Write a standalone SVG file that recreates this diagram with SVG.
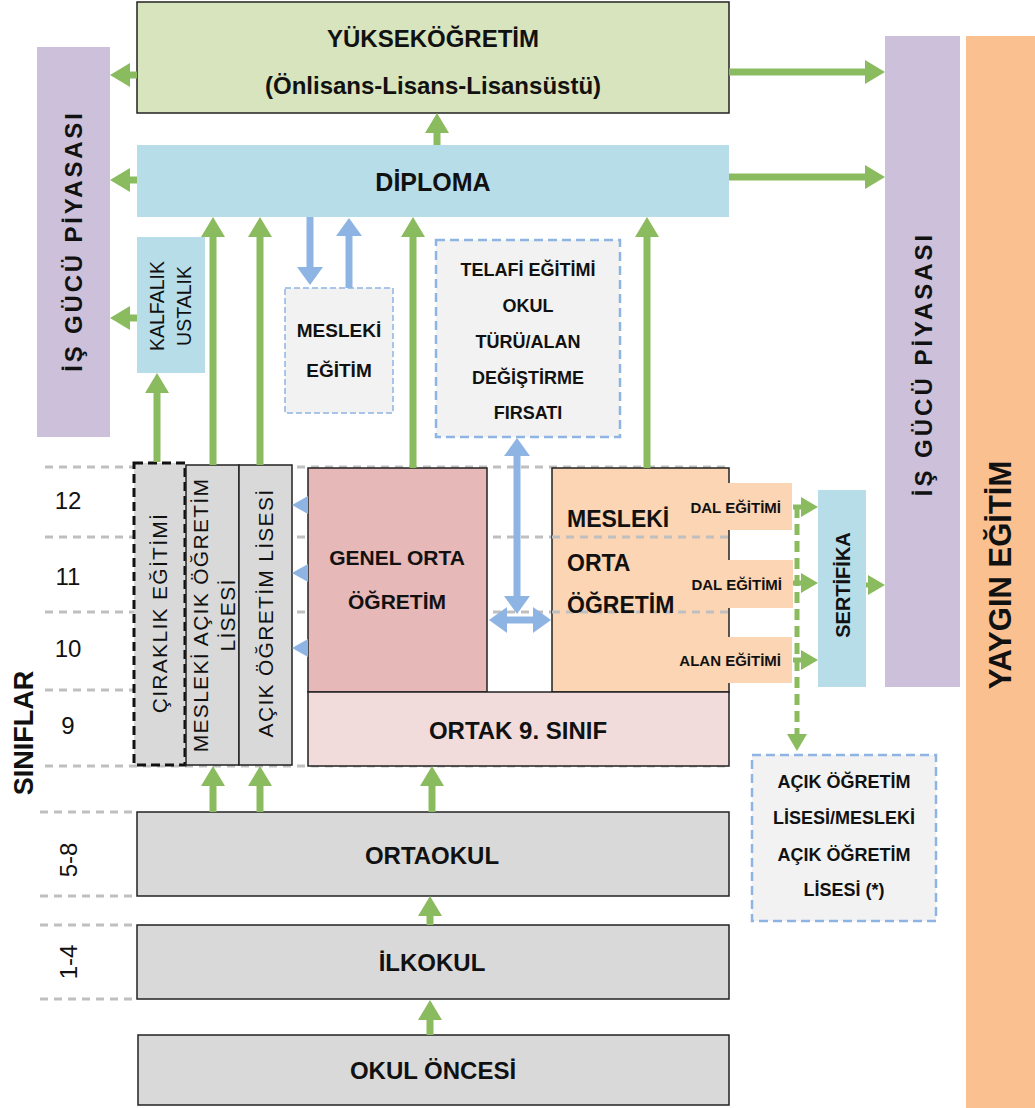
<svg xmlns="http://www.w3.org/2000/svg" width="1035" height="1108" viewBox="0 0 1035 1108">
<defs>
<style>
text{font-family:"Liberation Sans",Arial,sans-serif;fill:#111;}
.b{font-weight:bold;}
.c{text-anchor:middle;dominant-baseline:central;}
.box{stroke:#222;stroke-width:1.5;}
.grid{stroke:#bfbfbf;stroke-width:3;stroke-dasharray:8 6;fill:none;}
.g{stroke:#8bbb5f;stroke-width:7;fill:none;}
.gs{stroke:#8bbb5f;stroke-width:5;fill:none;}
.bl{stroke:#8eb4e3;stroke-width:7;fill:none;}
.side{font-size:21px;letter-spacing:1.3px;}
</style>
<marker id="ga" markerUnits="userSpaceOnUse" markerWidth="22" markerHeight="24" viewBox="0 0 20 24" refX="1" refY="12" orient="auto-start-reverse"><path d="M0,0 L20,12 L0,24 z" fill="#8bbb5f"/></marker>
<marker id="gsm" markerUnits="userSpaceOnUse" markerWidth="18" markerHeight="20" viewBox="0 0 17 20" refX="1" refY="10" orient="auto"><path d="M0,0 L17,10 L0,20 z" fill="#8bbb5f"/></marker>
<marker id="ba" markerUnits="userSpaceOnUse" markerWidth="20" markerHeight="26" viewBox="0 0 18 26" refX="1" refY="13" orient="auto-start-reverse"><path d="M0,0 L18,13 L0,26 z" fill="#8eb4e3"/></marker>
</defs>

<g id="grid">
<line class="grid" x1="45" y1="467" x2="730" y2="467"/>
<line class="grid" x1="45" y1="537" x2="730" y2="537"/>
<line class="grid" x1="45" y1="612" x2="730" y2="612"/>
<line class="grid" x1="45" y1="690" x2="135" y2="690"/>
<line class="grid" x1="45" y1="766" x2="730" y2="766"/>
<line class="grid" x1="40" y1="812" x2="137" y2="812"/>
<line class="grid" x1="40" y1="896" x2="137" y2="896"/>
<line class="grid" x1="40" y1="925" x2="137" y2="925"/>
<line class="grid" x1="40" y1="999" x2="137" y2="999"/>
</g>

<g id="grades">
<text x="68" y="500" class="c" font-size="24">12</text>
<text x="68" y="576" class="c" font-size="24">11</text>
<text x="68" y="648" class="c" font-size="24">10</text>
<text x="68" y="725" class="c" font-size="24">9</text>
<text class="c" font-size="24" transform="translate(68,860) rotate(-90)">5-8</text>
<text class="c" font-size="24" transform="translate(68,962) rotate(-90)">1-4</text>
<text class="c b" font-size="27" transform="translate(24,733) rotate(-90)">SINIFLAR</text>
</g>

<g id="isgucu-left">
<rect x="37" y="47" width="73" height="390" fill="#ccc0da"/>
<text class="c b" font-size="24" letter-spacing="2.8" transform="translate(73,241) rotate(-90)">İŞ GÜCÜ PİYASASI</text>
</g>
<g id="isgucu-right">
<rect x="885" y="36" width="75" height="651" fill="#ccc0da"/>
<text class="c b" font-size="24" letter-spacing="3" transform="translate(923,364) rotate(-90)">İŞ GÜCÜ PİYASASI</text>
</g>
<g id="yaygin">
<rect x="966" y="36" width="69" height="1072" fill="#fac090"/>
<text class="c b" font-size="31" transform="translate(1000,575) rotate(-90)">YAYGIN EĞİTİM</text>
</g>

<g id="yuksekogretim">
<rect class="box" x="137" y="2" width="592" height="111" fill="#d7e4bd"/>
<text x="433" y="38" class="c b" font-size="24">YÜKSEKÖĞRETİM</text>
<text x="433" y="85" class="c b" font-size="24">(Önlisans-Lisans-Lisansüstü)</text>
</g>
<g id="diploma">
<rect x="137" y="145" width="592" height="72" fill="#b7dde8"/>
<text x="433" y="182" class="c b" font-size="25">DİPLOMA</text>
</g>
<g id="kalfalik">
<rect x="137" y="237" width="68" height="136" fill="#b7dde8"/>
<text class="c" font-size="19.5" transform="translate(157,306) rotate(-90)">KALFALIK</text>
<text class="c" font-size="19.5" transform="translate(184,306) rotate(-90)">USTALIK</text>
</g>
<g id="mesleki-egitim">
<rect x="285" y="288" width="108" height="125" fill="#f2f2f2" stroke="#8eb4e3" stroke-width="1.5" stroke-dasharray="6 3"/>
<text x="339" y="330" class="c b" font-size="19">MESLEKİ</text>
<text x="339" y="370" class="c b" font-size="19">EĞİTİM</text>
</g>
<g id="telafi">
<rect x="436" y="240" width="184" height="197" fill="#f2f2f2" stroke="#8eb4e3" stroke-width="2.5" stroke-dasharray="9 5"/>
<text x="528" y="270" class="c b" font-size="18">TELAFİ EĞİTİMİ</text>
<text x="528" y="306" class="c b" font-size="18">OKUL</text>
<text x="528" y="342" class="c b" font-size="18">TÜRÜ/ALAN</text>
<text x="528" y="378" class="c b" font-size="18">DEĞİŞTİRME</text>
<text x="528" y="413" class="c b" font-size="18">FIRSATI</text>
</g>

<g id="ciraklik">
<rect x="134" y="463" width="51" height="302" fill="#d9d9d9" stroke="#111" stroke-width="3" stroke-dasharray="9 5"/>
<text class="c side" transform="translate(159,613) rotate(-90)">ÇIRAKLIK EĞİTİMİ</text>
</g>
<g id="mesleki-acik">
<rect class="box" x="186" y="465" width="53" height="300" fill="#d9d9d9"/>
<text class="c side" transform="translate(200,615) rotate(-90)">MESLEKİ AÇIK ÖĞRETİM</text>
<text class="c side" transform="translate(227,615) rotate(-90)">LİSESİ</text>
</g>
<g id="acik-ogretim">
<rect class="box" x="239" y="465" width="53" height="300" fill="#d9d9d9"/>
<text class="c side" transform="translate(265,613) rotate(-90)">AÇIK ÖĞRETİM LİSESİ</text>
</g>

<g id="genel-orta">
<rect class="box" x="308" y="468" width="179" height="224" fill="#e6b8b7"/>
<text x="397" y="557" class="c b" font-size="21">GENEL ORTA</text>
<text x="397" y="601" class="c b" font-size="21">ÖĞRETİM</text>
</g>
<g id="mesleki-orta">
<rect class="box" x="552" y="468" width="177" height="224" fill="#fcd5b4"/>
<line class="grid" x1="552" y1="537" x2="729" y2="537"/>
<line class="grid" x1="552" y1="612" x2="729" y2="612"/>
<text x="567" y="519" class="b" font-size="23" dominant-baseline="central">MESLEKİ</text>
<text x="567" y="563" class="b" font-size="23" dominant-baseline="central">ORTA</text>
<text x="567" y="605" class="b" font-size="23" dominant-baseline="central">ÖĞRETİM</text>
</g>
<g id="dal1">
<rect x="675" y="483" width="117" height="47" fill="#fcd5b4"/>
<text x="781" y="507" class="b" font-size="15" text-anchor="end" dominant-baseline="central">DAL EĞİTİMİ</text>
</g>
<g id="dal2">
<rect x="675" y="560" width="118" height="48" fill="#fcd5b4"/>
<text x="782" y="584" class="b" font-size="15" text-anchor="end" dominant-baseline="central">DAL EĞİTİMİ</text>
</g>
<g id="alan">
<rect x="675" y="637" width="117" height="46" fill="#fcd5b4"/>
<text x="781" y="660" class="b" font-size="15" text-anchor="end" dominant-baseline="central">ALAN EĞİTİMİ</text>
</g>
<g id="ortak9">
<rect class="box" x="308" y="692" width="421" height="74" fill="#f2dcdb"/>
<text x="518" y="730" class="c b" font-size="24">ORTAK 9. SINIF</text>
</g>
<g id="sertifika">
<rect x="818" y="490" width="48" height="197" fill="#b7dde8"/>
<text class="c b" font-size="20" transform="translate(843,585) rotate(-90)">SERTİFİKA</text>
</g>
<g id="acik-lise-box">
<rect x="752" y="755" width="184" height="166" fill="#f2f2f2" stroke="#8eb4e3" stroke-width="2.5" stroke-dasharray="9 5"/>
<text x="844" y="782" class="c b" font-size="18">AÇIK ÖĞRETİM</text>
<text x="844" y="818" class="c b" font-size="18">LİSESİ/MESLEKİ</text>
<text x="844" y="855" class="c b" font-size="18">AÇIK ÖĞRETİM</text>
<text x="844" y="890" class="c b" font-size="18">LİSESİ (*)</text>
</g>

<g id="ortaokul">
<rect class="box" x="137" y="812" width="592" height="84" fill="#d9d9d9"/>
<text x="432" y="855" class="c b" font-size="24">ORTAOKUL</text>
</g>
<g id="ilkokul">
<rect class="box" x="137" y="925" width="592" height="74" fill="#d9d9d9"/>
<text x="432" y="962" class="c b" font-size="24">İLKOKUL</text>
</g>
<g id="okuloncesi">
<rect class="box" x="138" y="1035" width="591" height="70" fill="#d9d9d9"/>
<text x="433" y="1070" class="c b" font-size="24">OKUL ÖNCESİ</text>
</g>

<g id="connectors">
<line class="g" x1="137" y1="75" x2="129" y2="75" marker-end="url(#ga)"/>
<line class="g" x1="137" y1="180" x2="129" y2="180" marker-end="url(#ga)"/>
<line class="g" x1="137" y1="318" x2="129" y2="318" marker-end="url(#ga)"/>
<line class="g" x1="729" y1="72" x2="866" y2="72" marker-end="url(#ga)"/>
<line class="g" x1="729" y1="177" x2="866" y2="177" marker-end="url(#ga)"/>
<line class="g" x1="437" y1="145" x2="437" y2="132" marker-end="url(#ga)"/>
<line class="g" x1="157" y1="462" x2="157" y2="392" marker-end="url(#ga)"/>
<line class="g" x1="213" y1="465" x2="213" y2="236" marker-end="url(#ga)"/>
<line class="g" x1="260" y1="465" x2="260" y2="236" marker-end="url(#ga)"/>
<line class="g" x1="413" y1="468" x2="413" y2="236" marker-end="url(#ga)"/>
<line class="g" x1="647" y1="468" x2="647" y2="236" marker-end="url(#ga)"/>
<line class="bl" x1="310" y1="217" x2="310" y2="268" marker-end="url(#ba)"/>
<line class="bl" x1="349" y1="288" x2="349" y2="235" marker-end="url(#ba)"/>
<line class="bl" x1="517" y1="455" x2="517" y2="597" marker-start="url(#ba)" marker-end="url(#ba)"/>
<line class="bl" x1="506" y1="620" x2="534" y2="620" marker-start="url(#ba)" marker-end="url(#ba)"/>
<path d="M308,496 L292,505 L308,514 z" fill="#8eb4e3"/>
<path d="M308,564 L292,573 L308,582 z" fill="#8eb4e3"/>
<path d="M308,639 L292,648 L308,657 z" fill="#8eb4e3"/>
<line class="g" x1="213" y1="812" x2="213" y2="785" marker-end="url(#ga)"/>
<line class="g" x1="260" y1="812" x2="260" y2="785" marker-end="url(#ga)"/>
<line class="g" x1="432" y1="812" x2="432" y2="785" marker-end="url(#ga)"/>
<line class="g" x1="430" y1="925" x2="430" y2="915" marker-end="url(#ga)"/>
<line class="g" x1="430" y1="1035" x2="430" y2="1019" marker-end="url(#ga)"/>
<line class="gs" x1="793" y1="507" x2="802" y2="507" marker-end="url(#gsm)"/>
<line class="gs" x1="793" y1="583" x2="802" y2="583" marker-end="url(#gsm)"/>
<line class="gs" x1="793" y1="660" x2="802" y2="660" marker-end="url(#gsm)"/>
<line class="gs" x1="866" y1="585" x2="869" y2="585" marker-end="url(#gsm)"/>
<line class="gs" x1="797" y1="507" x2="797" y2="735" stroke-dasharray="11 6" marker-end="url(#gsm)"/>
</g>
</svg>
